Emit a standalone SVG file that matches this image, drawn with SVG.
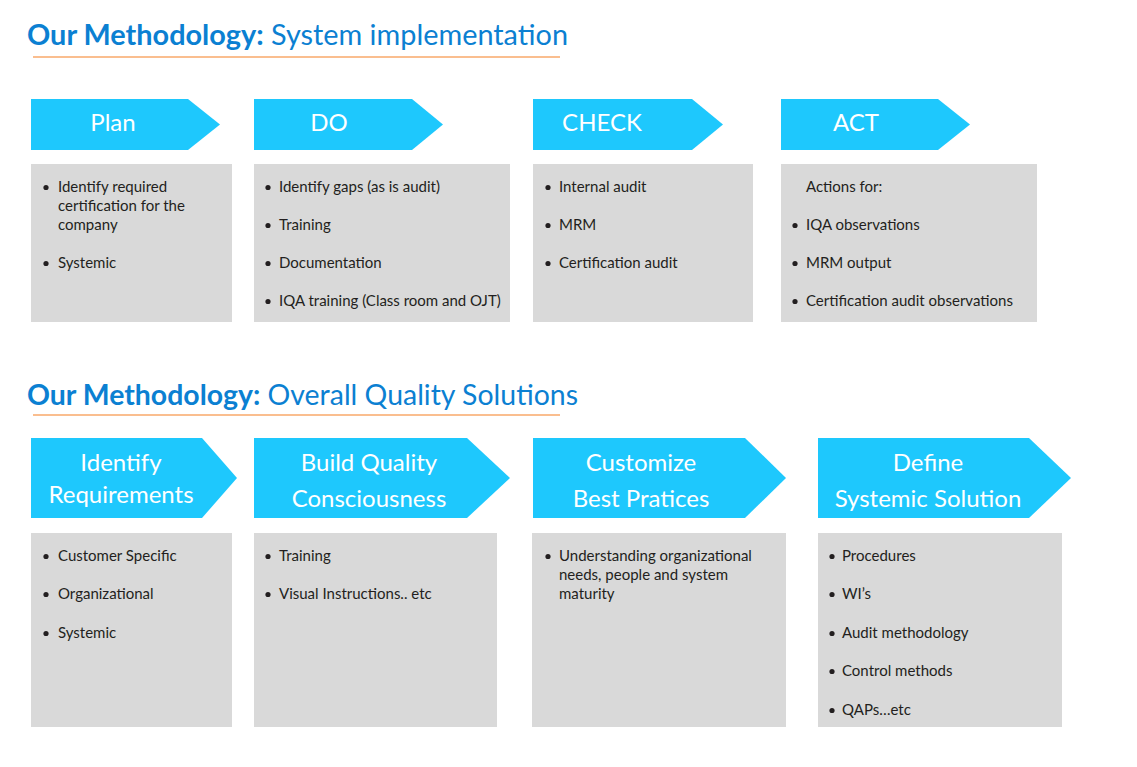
<svg xmlns="http://www.w3.org/2000/svg" width="1137" height="767" viewBox="0 0 1137 767">
<style>
.title{font-family:Lato,"Open Sans","Liberation Sans",sans-serif;font-size:29px;fill:#0b80d2}
.tb{font-weight:bold}
.uline{stroke:#f9a86a;stroke-width:1.3;fill:none}
.arrow{fill:#1ec8fd}
.box{fill:#d9d9d9}
.head{font-family:Lato,"Open Sans","Liberation Sans",sans-serif;font-size:24px;fill:#ffffff;text-anchor:middle}
.body{font-family:Lato,"Open Sans","Liberation Sans",sans-serif;font-size:15px;fill:#231f20}
.dot{fill:#231f20}
</style>
<rect width="1137" height="767" fill="#ffffff"/>
<g id="title1">
<text class="title" x="27" y="45" textLength="541" lengthAdjust="spacingAndGlyphs"><tspan class="tb">Our Methodology:</tspan> System implementation</text>
<line class="uline" x1="33" y1="57" x2="560" y2="57"/>
</g>
<g id="title2">
<text class="title" x="27" y="405" textLength="551" lengthAdjust="spacingAndGlyphs"><tspan class="tb">Our Methodology:</tspan> Overall Quality Solutions</text>
<line class="uline" x1="33" y1="415" x2="560" y2="415"/>
</g>
<g id="connectors"></g>
<g id="plan">
<polygon class="arrow" points="31,99 188,99 220,124.5 188,150 31,150"/>
<text class="head" x="113" y="131">Plan</text>
<rect class="box" x="31" y="164" width="201" height="158"/>
<circle class="dot" cx="46" cy="187.5" r="2.6"/>
<text class="body" x="58" y="192">Identify required</text>
<text class="body" x="58" y="211">certification for the</text>
<text class="body" x="58" y="230">company</text>
<circle class="dot" cx="46" cy="263.5" r="2.6"/>
<text class="body" x="58" y="268">Systemic</text>
</g>
<g id="do">
<polygon class="arrow" points="254,99 412,99 443,124.5 412,150 254,150"/>
<text class="head" x="329" y="131">DO</text>
<rect class="box" x="254" y="164" width="256" height="158"/>
<circle class="dot" cx="268" cy="187.5" r="2.6"/>
<text class="body" x="279" y="192">Identify gaps (as is audit)</text>
<circle class="dot" cx="268" cy="225.5" r="2.6"/>
<text class="body" x="279" y="230">Training</text>
<circle class="dot" cx="268" cy="263.5" r="2.6"/>
<text class="body" x="279" y="268">Documentation</text>
<circle class="dot" cx="268" cy="301.5" r="2.6"/>
<text class="body" x="279" y="306">IQA training (Class room and OJT)</text>
</g>
<g id="check">
<polygon class="arrow" points="533,99 692,99 723,124.5 692,150 533,150"/>
<text class="head" x="602" y="131">CHECK</text>
<rect class="box" x="533" y="164" width="220" height="158"/>
<circle class="dot" cx="548" cy="187.5" r="2.6"/>
<text class="body" x="559" y="192">Internal audit</text>
<circle class="dot" cx="548" cy="225.5" r="2.6"/>
<text class="body" x="559" y="230">MRM</text>
<circle class="dot" cx="548" cy="263.5" r="2.6"/>
<text class="body" x="559" y="268">Certification audit</text>
</g>
<g id="act">
<polygon class="arrow" points="781,99 938,99 970,124.5 938,150 781,150"/>
<text class="head" x="856" y="131">ACT</text>
<rect class="box" x="781" y="164" width="256" height="158"/>
<text class="body" x="806" y="192">Actions for:</text>
<circle class="dot" cx="795" cy="225.5" r="2.6"/>
<text class="body" x="806" y="230">IQA observations</text>
<circle class="dot" cx="795" cy="263.5" r="2.6"/>
<text class="body" x="806" y="268">MRM output</text>
<circle class="dot" cx="795" cy="301.5" r="2.6"/>
<text class="body" x="806" y="306">Certification audit observations</text>
</g>
<g id="identify">
<polygon class="arrow" points="31,438 202,438 237,478 202,518 31,518"/>
<text class="head" x="121" y="471">Identify</text>
<text class="head" x="121" y="503">Requirements</text>
<rect class="box" x="31" y="533" width="201" height="194"/>
<circle class="dot" cx="46" cy="556.5" r="2.6"/>
<text class="body" x="58" y="561">Customer Specific</text>
<circle class="dot" cx="46" cy="594.5" r="2.6"/>
<text class="body" x="58" y="599">Organizational</text>
<circle class="dot" cx="46" cy="633.5" r="2.6"/>
<text class="body" x="58" y="638">Systemic</text>
</g>
<g id="build">
<polygon class="arrow" points="254,438 467,438 510,478 467,518 254,518"/>
<text class="head" x="369" y="471">Build Quality</text>
<text class="head" x="369" y="507">Consciousness</text>
<rect class="box" x="254" y="533" width="243" height="194"/>
<circle class="dot" cx="268" cy="556.5" r="2.6"/>
<text class="body" x="279" y="561">Training</text>
<circle class="dot" cx="268" cy="594.5" r="2.6"/>
<text class="body" x="279" y="599">Visual Instructions.. etc</text>
</g>
<g id="customize">
<polygon class="arrow" points="533,438 745,438 786,478 745,518 533,518"/>
<text class="head" x="641" y="471">Customize</text>
<text class="head" x="641" y="507">Best Pratices</text>
<rect class="box" x="532" y="533" width="254" height="194"/>
<circle class="dot" cx="548" cy="556.5" r="2.6"/>
<text class="body" x="559" y="561">Understanding organizational</text>
<text class="body" x="559" y="580">needs, people and system</text>
<text class="body" x="559" y="599">maturity</text>
</g>
<g id="define">
<polygon class="arrow" points="818,438 1029,438 1071,478 1029,518 818,518"/>
<text class="head" x="928" y="471">Define</text>
<text class="head" x="928" y="507">Systemic Solution</text>
<rect class="box" x="818" y="533" width="244" height="194"/>
<circle class="dot" cx="832" cy="556.5" r="2.6"/>
<text class="body" x="842" y="561">Procedures</text>
<circle class="dot" cx="832" cy="594.5" r="2.6"/>
<text class="body" x="842" y="599">WI’s</text>
<circle class="dot" cx="832" cy="633.5" r="2.6"/>
<text class="body" x="842" y="638">Audit methodology</text>
<circle class="dot" cx="832" cy="671.5" r="2.6"/>
<text class="body" x="842" y="676">Control methods</text>
<circle class="dot" cx="832" cy="710.5" r="2.6"/>
<text class="body" x="842" y="715">QAPs…etc</text>
</g>
</svg>
